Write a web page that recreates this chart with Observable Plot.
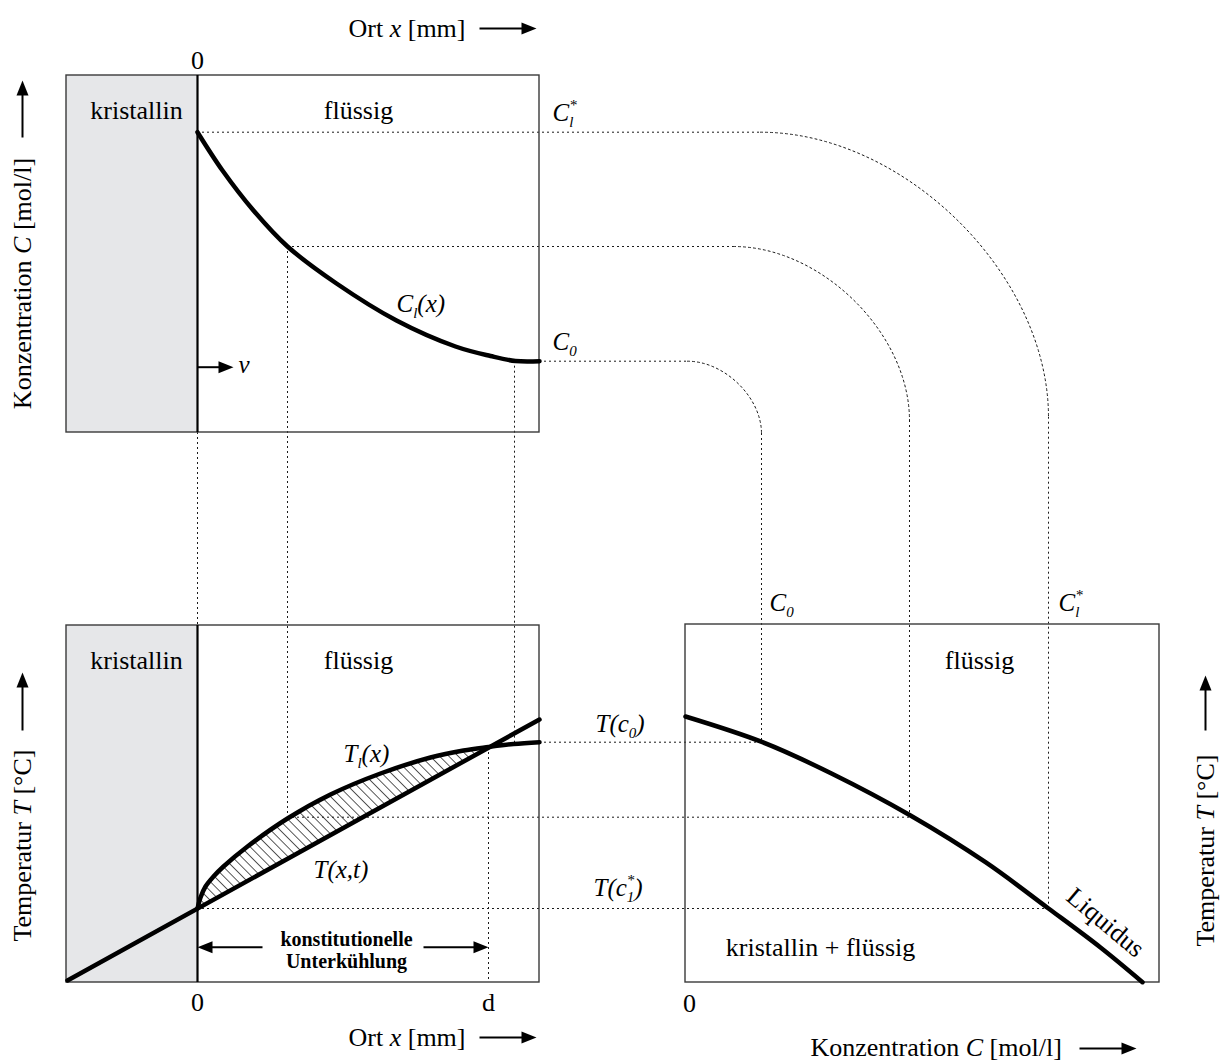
<!DOCTYPE html>
<html>
<head>
<meta charset="utf-8">
<script src="https://cdn.jsdelivr.net/npm/d3@7"></script>
<script src="https://cdn.jsdelivr.net/npm/@observablehq/plot@0.6"></script>
<style>
  html, body { margin: 0; padding: 0; background: #fff; }
  #chart svg { display: block; }
</style>
</head>
<body>
<div id="chart"></div>
<script>
// ---------- DATA (schematic diagram units) ----------
// panel frames
const panels = [
  {id: "Konzentrationsprofil", x1: 66, x2: 539, y1: 75, y2: 432},
  {id: "Temperaturprofil", x1: 66, x2: 539, y1: 625, y2: 982},
  {id: "Phasendiagramm", x1: 685, x2: 1159, y1: 624, y2: 982}
];
// crystalline zones (x < 0)
const crystalZones = [
  {x1: 66, x2: 197, y1: 75, y2: 432},
  {x1: 66, x2: 197, y1: 625, y2: 982}
];
// solid/liquid interface at x = 0
const interfaces = [
  {x: 197, y1: 75, y2: 432},
  {x: 197, y1: 625, y2: 982}
];

// concentration profile C_l(x)
const concX = [197, 222, 253, 287, 336, 396, 455, 490, 515, 539];
const concC = [131.7, 170, 210, 246, 283, 320, 346, 355.5, 360.5, 360.7];

// liquidus temperature profile T_l(x)
const tlX = [197, 200, 205, 213, 223, 247, 287, 330, 380, 430, 463, 488, 513, 539];
const tlT = [908, 897, 886, 876, 866, 846, 818, 794, 773, 757, 750, 746.5, 743.5, 741.7];

// actual temperature T(x,t) (straight gradient)
const gradX = [67, 539];
const gradT = [980, 719];

// undercooled zone (between T(x,t) and T_l(x))
const hatchX = [197, 200, 205, 213, 223, 247, 287, 330, 380, 430, 463, 488];
const hatchHigh = [908, 897, 886, 876, 866, 846, 818, 794, 773, 757, 750, 747];
const hatchLow = [908, 906.3, 903.6, 899.1, 893.6, 880.3, 858.2, 834.4, 806.7, 779.1, 760.8, 747];

// liquidus line of phase diagram
const liqC = [685, 762, 831, 910, 985, 1048, 1100, 1142];
const liqT = [716, 741.7, 773, 815, 861.7, 908, 947, 981.7];

// dotted projection lines
const guidesH = [
  {y: 131.7, x1: 197, x2: 760},
  {y: 246, x1: 287, x2: 733},
  {y: 360.7, x1: 539, x2: 687},
  {y: 741.7, x1: 539, x2: 761},
  {y: 816.7, x1: 287, x2: 909},
  {y: 908, x1: 197, x2: 1048}
];
const guidesV = [
  {x: 1048, y1: 416.7, y2: 908},
  {x: 909, y1: 420, y2: 816.7},
  {x: 761, y1: 433, y2: 741.7},
  {x: 197, y1: 432, y2: 625},
  {x: 287, y1: 246, y2: 816.7},
  {x: 514, y1: 360.7, y2: 743},
  {x: 488, y1: 747, y2: 982}
];
// rounded bends of the projection lines: start, corner, end
const bendIds = ["C_l*", "C_mitte", "C_0"];
const bendX = [[760, 1048, 1048], [733, 909, 909], [687, 761, 761]];
const bendY = [[131.7, 131.7, 416.7], [246, 246, 420], [360.7, 360.7, 433]];

// arrows (from -> to)
const arrows = [
  {x1: 479, y1: 28, x2: 536, y2: 28},
  {x1: 479, y1: 1037, x2: 536, y2: 1037},
  {x1: 1079, y1: 1048, x2: 1136, y2: 1048},
  {x1: 22, y1: 137, x2: 22, y2: 80},
  {x1: 22, y1: 730, x2: 22, y2: 672},
  {x1: 1205, y1: 730, x2: 1205, y2: 675},
  {x1: 197, y1: 366.7, x2: 233, y2: 366.7},
  {x1: 262, y1: 946.7, x2: 197, y2: 946.7},
  {x1: 423, y1: 946.7, x2: 488, y2: 946.7}
];

// texts
const plainLabels = [
  {x: 136, y: 110, text: "kristallin"},
  {x: 358, y: 110, text: "flüssig"},
  {x: 136, y: 660, text: "kristallin"},
  {x: 358, y: 660, text: "flüssig"},
  {x: 979, y: 660, text: "flüssig"},
  {x: 820, y: 947, text: "kristallin + flüssig"},
  {x: 197, y: 60, text: "0"},
  {x: 197, y: 1002, text: "0"},
  {x: 488, y: 1002, text: "d"},
  {x: 689, y: 1003, text: "0"}
];
const axisTitles = [
  {x: 348, y: 28, text: "Ort ~x~ [mm]"},
  {x: 348, y: 1037, text: "Ort ~x~ [mm]"},
  {x: 810, y: 1047, text: "Konzentration ~C~ [mol/l]"}
];
const rotatedTitles = [
  {x: 22, y: 283, text: "Konzentration ~C~ [mol/l]"},
  {x: 22, y: 845, text: "Temperatur ~T~ [°C]"},
  {x: 1205, y: 850, text: "Temperatur ~T~ [°C]"}
];
const mathLabels = [
  {x: 552, y: 112, text: "C_{l}^{*}"},
  {x: 552, y: 341, text: "C_{0}"},
  {x: 396, y: 303, text: "C_{l}(x)"},
  {x: 238, y: 364, text: "v"},
  {x: 343, y: 753, text: "T_{l}(x)"},
  {x: 313, y: 869, text: "T(x,t)"},
  {x: 595, y: 723, text: "T(c_{0})"},
  {x: 593, y: 887, text: "T(c_{1}^{*})"},
  {x: 769, y: 602, text: "C_{0}"},
  {x: 1058, y: 602, text: "C_{l}^{*}"}
];
const boldLabels = [
  {x: 346, y: 945, text: "konstitutionelle"},
  {x: 346, y: 967, text: "Unterkühlung"}
];
const curveLabels = [
  {x: 1105, y: 922, text: "Liquidus", angle: 40}
];

// ---------- BUILD ----------
const zip = (xs, ys, extra = {}) => xs.map((x, i) => ({x, y: ys[i], ...extra}));
const concRows = zip(concX, concC);
const tlRows = zip(tlX, tlT);
const gradRows = zip(gradX, gradT);
const liqRows = zip(liqC, liqT);
const hatchRows = hatchX.map((x, i) => ({x, high: hatchHigh[i], low: hatchLow[i]}));
const bendRows = bendIds.flatMap((id, i) => zip(bendX[i], bendY[i], {id}));

// rounded-corner curve: start, corner, end -> cubic Bézier
const cornerCurve = (context) => {
  let pts = [];
  return {
    areaStart() {}, areaEnd() {},
    lineStart() { pts = []; },
    point(x, y) { pts.push([+x, +y]); },
    lineEnd() {
      if (pts.length < 3) return;
      const [a, c, b] = pts, k = 0.5;
      context.moveTo(a[0], a[1]);
      context.bezierCurveTo(
        a[0] + k * (c[0] - a[0]), a[1] + k * (c[1] - a[1]),
        b[0] + k * (c[0] - b[0]), b[1] + k * (c[1] - b[1]),
        b[0], b[1]);
    }
  };
};

const HEAD = 15;
const heads = arrows.map(a => ({x: a.x2, y: a.y2, angle: Math.atan2(a.y2 - a.y1, a.x2 - a.x1) * 180 / Math.PI + 90}));
const shafts = arrows.map(a => {
  const L = Math.hypot(a.x2 - a.x1, a.y2 - a.y1);
  const ux = (a.x2 - a.x1) / L, uy = (a.y2 - a.y1) / L;
  return {x1: a.x1, y1: a.y1, x2: a.x2 - ux * (HEAD - 5), y2: a.y2 - uy * (HEAD - 5)};
});
const arrowHead = {
  draw(ctx) {
    ctx.moveTo(0, 0);
    ctx.lineTo(6, HEAD);
    ctx.lineTo(-6, HEAD);
    ctx.closePath();
  }
};

const dotted = {stroke: "#1a1a1a", strokeWidth: 1, strokeDasharray: "2,3"};
const serif = "'Liberation Serif', 'Times New Roman', serif";

const svg = Plot.plot({
  width: 1222,
  height: 1062,
  margin: 0,
  x: {domain: [0, 1222], range: [0, 1222], axis: null},
  y: {domain: [0, 1062], range: [0, 1062], axis: null},
  style: {fontFamily: serif, fontSize: "26px", background: "#fff", color: "#000", display: "block"},
  marks: [
    Plot.rect(crystalZones, {x1: "x1", x2: "x2", y1: "y1", y2: "y2", fill: "#e6e7e9"}),
    Plot.areaY(hatchRows, {x: "x", y1: "low", y2: "high", fill: "url(#hatch)", curve: "catmull-rom"}),
    Plot.ruleY(guidesH, {y: "y", x1: "x1", x2: "x2", ...dotted}),
    Plot.ruleX(guidesV, {x: "x", y1: "y1", y2: "y2", ...dotted}),
    Plot.line(bendRows, {x: "x", y: "y", z: "id", curve: cornerCurve, ...dotted}),
    Plot.rect(panels, {x1: "x1", x2: "x2", y1: "y1", y2: "y2", fill: "none", stroke: "#3a3a3a", strokeWidth: 1.4}),
    Plot.ruleX(interfaces, {x: "x", y1: "y1", y2: "y2", stroke: "#000", strokeWidth: 2.2}),
    Plot.line(gradRows, {x: "x", y: "y", stroke: "#000", strokeWidth: 4.5}),
    Plot.line(concRows, {x: "x", y: "y", curve: "catmull-rom", stroke: "#000", strokeWidth: 4.5}),
    Plot.line(tlRows, {x: "x", y: "y", curve: "catmull-rom", stroke: "#000", strokeWidth: 4.5}),
    Plot.line(liqRows, {x: "x", y: "y", curve: "catmull-rom", stroke: "#000", strokeWidth: 4.5}),
    Plot.link(shafts, {x1: "x1", y1: "y1", x2: "x2", y2: "y2", stroke: "#000", strokeWidth: 2}),
    Plot.dot(heads, {x: "x", y: "y", rotate: "angle", symbol: arrowHead, r: 5, fill: "#000", stroke: "none"}),
    Plot.text(plainLabels, {x: "x", y: "y", text: "text", fontSize: 26}),
    Plot.text(axisTitles, {x: "x", y: "y", text: "text", fontSize: 26, textAnchor: "start"}),
    Plot.text(rotatedTitles, {x: "x", y: "y", text: "text", fontSize: 26, rotate: -90}),
    Plot.text(mathLabels, {x: "x", y: "y", text: "text", fontSize: 25, fontStyle: "italic", textAnchor: "start"}),
    Plot.text(boldLabels, {x: "x", y: "y", text: "text", fontSize: 20, fontWeight: "bold", lineAnchor: "bottom"}),
    Plot.text(curveLabels, {x: "x", y: "y", text: "text", rotate: "angle", fontSize: 26})
  ]
});

document.getElementById("chart").appendChild(svg);

// hatch pattern
const defs = d3.select(svg).insert("defs", ":first-child");
const pat = defs.append("pattern")
  .attr("id", "hatch").attr("patternUnits", "userSpaceOnUse")
  .attr("width", 6.6).attr("height", 6.6).attr("patternTransform", "rotate(-45)");
pat.append("line").attr("x1", 0).attr("y1", -1).attr("x2", 0).attr("y2", 8)
  .attr("stroke", "#000").attr("stroke-width", 1.3);

// simple markup: _{sub}, ^{sup}, ~italic~
const NS = "http://www.w3.org/2000/svg";
svg.querySelectorAll("text").forEach(t => {
  const raw = t.textContent;
  if (!/[_^~]/.test(raw)) return;
  const F = parseFloat(getComputedStyle(t).fontSize) || 26;
  const tokens = [];
  let i = 0, italic = false, buf = "";
  const push = (s, mode) => { if (s) tokens.push({s, mode, italic}); };
  while (i < raw.length) {
    const c = raw[i];
    if (c === "~") { push(buf, "base"); buf = ""; italic = !italic; i++; }
    else if ((c === "_" || c === "^") && raw[i + 1] === "{") {
      push(buf, "base"); buf = "";
      const j = raw.indexOf("}", i + 2);
      push(raw.slice(i + 2, j), c === "_" ? "sub" : "sup");
      i = j + 1;
    } else { buf += c; i++; }
  }
  push(buf, "base");
  t.textContent = "";
  let shift = 0, prev = null, prevEl = null;
  for (const tk of tokens) {
    const ts = document.createElementNS(NS, "tspan");
    ts.textContent = tk.s;
    const target = tk.mode === "sub" ? 0.26 * F : tk.mode === "sup" ? -0.42 * F : 0;
    if (tk.mode !== "base") ts.setAttribute("font-size", (0.6 * F).toFixed(1));
    if (target !== shift) ts.setAttribute("dy", (target - shift).toFixed(1));
    if (tk.italic) ts.setAttribute("font-style", "italic");
    if (tk.mode === "sup" && prev && prev.mode === "sub" && prevEl) {
      ts.setAttribute("dx", (-prevEl.getComputedTextLength()).toFixed(1));
    }
    shift = target;
    t.appendChild(ts);
    prev = tk; prevEl = ts;
  }
});
</script>
</body>
</html>
